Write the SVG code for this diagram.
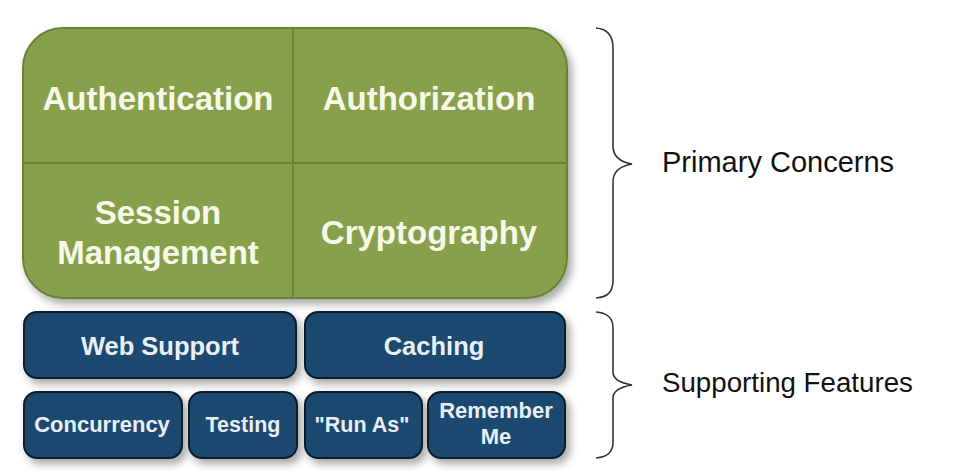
<svg xmlns="http://www.w3.org/2000/svg" width="980" height="475" viewBox="0 0 980 475">
<style>
.g{fill:#88a04b;stroke:#6a8233;stroke-width:2}
.div{stroke:#6a8233;stroke-width:2}
.gt{fill:#f6f8e8;font-family:"Liberation Sans",Arial,sans-serif;font-weight:bold;font-size:33px;text-anchor:middle}
.b{fill:#1d4870;stroke:#0d1b29;stroke-width:2}
.bt{fill:#e9eff5;font-family:"Liberation Sans",Arial,sans-serif;font-weight:bold;text-anchor:middle}
.brace{fill:none;stroke:#333;stroke-width:1.6}
.lab{fill:#111;font-family:"Liberation Sans",Arial,sans-serif}
</style>
<defs>
<filter id="sh" x="-10%" y="-10%" width="130%" height="130%">
<feDropShadow dx="4" dy="5" stdDeviation="4" flood-color="#000" flood-opacity="0.35"/>
</filter>
</defs>
<rect width="980" height="475" fill="#fff"/>
<g id="primary">
<rect class="g" x="23" y="28" width="544" height="270" rx="40" filter="url(#sh)"/>
<line class="div" x1="293" y1="28" x2="293" y2="298"/>
<line class="div" x1="23" y1="163" x2="567" y2="163"/>
</g>
<g id="authentication"><text class="gt" x="158" y="110">Authentication</text></g>
<g id="authorization"><text class="gt" x="429" y="110">Authorization</text></g>
<g id="session"><text class="gt" x="158" y="224">Session</text><text class="gt" x="158" y="264">Management</text></g>
<g id="cryptography"><text class="gt" x="429" y="244">Cryptography</text></g>
<g id="web"><rect class="b" x="24" y="312" width="272" height="66" rx="13" filter="url(#sh)"/><text class="bt" x="160" y="355" font-size="25.5">Web Support</text></g>
<g id="caching"><rect class="b" x="305" y="312" width="260" height="66" rx="13" filter="url(#sh)"/><text class="bt" x="434" y="355" font-size="25.5">Caching</text></g>
<g id="concurrency"><rect class="b" x="24" y="392" width="158" height="66" rx="13" filter="url(#sh)"/><text class="bt" x="102" y="432" font-size="22">Concurrency</text></g>
<g id="testing"><rect class="b" x="189" y="392" width="108" height="66" rx="13" filter="url(#sh)"/><text class="bt" x="243" y="432" font-size="21.5">Testing</text></g>
<g id="runas"><rect class="b" x="305" y="392" width="117" height="66" rx="13" filter="url(#sh)"/><text class="bt" x="362" y="432" font-size="21.5">"Run As"</text></g>
<g id="remember"><rect class="b" x="428" y="392" width="137" height="66" rx="13" filter="url(#sh)"/><text class="bt" x="496" y="418" font-size="22">Remember</text><text class="bt" x="496" y="444" font-size="22">Me</text></g>
<g id="connectors">
<path class="brace" d="M596,28 C608,29 613,36 613,48 L613,146 C613,156 620,162 632,164 C620,166 613,172 613,182 L613,280 C613,292 608,297 596,298"/>
<path class="brace" d="M596,312 C608,313 613,318 613,328 L613,372 C613,379 620,383 632,385 C620,387 613,391 613,398 L613,442 C613,452 608,457 596,458"/>
</g>
<g id="labels">
<text class="lab" x="662" y="172" font-size="29">Primary Concerns</text>
<text class="lab" x="662" y="392" font-size="27.7">Supporting Features</text>
</g>
</svg>
